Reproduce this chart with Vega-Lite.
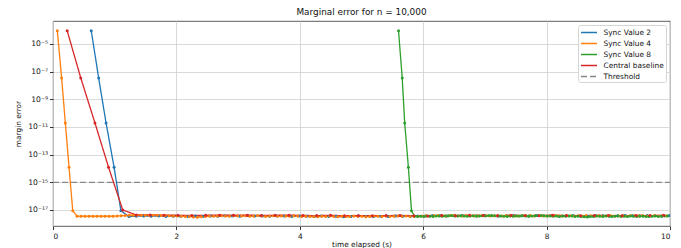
{
"$schema":"https://vega.github.io/schema/vega-lite/v6.json",
"autosize":"none","width":617,"height":205,
"padding":{"left":53,"top":21,"right":11,"bottom":22},
"background":"white",
"title":{"text":"Marginal error for n = 10,000","fontSize":8.9,"font":"DejaVu Sans","fontWeight":"normal","offset":4,"color":"#111"},
"config":{"view":{"stroke":"#333","strokeWidth":0.8},"font":"DejaVu Sans"},
"data":{"values":[
{"s":"Threshold","t":0,"e":1e-15},{"s":"Threshold","t":10,"e":1e-15},
{"s":"Sync Value 2","t":0.62,"e":9e-5},{"s":"Sync Value 2","t":0.74,"e":3.5e-8},{"s":"Sync Value 2","t":0.86,"e":1.95e-11},{"s":"Sync Value 2","t":0.99,"e":1.23e-14},{"s":"Sync Value 2","t":1.10,"e":8.9e-18},
{"s":"Sync Value 2","t":1.23,"e":3.3e-18},{"s":"Sync Value 2","t":1.35,"e":3.5e-18},{"s":"Sync Value 2","t":1.47,"e":3.6e-18},{"s":"Sync Value 2","t":1.59,"e":3.5e-18},{"s":"Sync Value 2","t":1.71,"e":3.6e-18},{"s":"Sync Value 2","t":1.83,"e":3.4e-18},{"s":"Sync Value 2","t":1.95,"e":3.5e-18},
{"s":"Sync Value 2","t":2.07,"e":3.5e-18},{"s":"Sync Value 2","t":2.19,"e":3.4e-18},{"s":"Sync Value 2","t":2.31,"e":3.6e-18},{"s":"Sync Value 2","t":2.43,"e":3.5e-18},{"s":"Sync Value 2","t":2.55,"e":3.7e-18},{"s":"Sync Value 2","t":2.67,"e":3.5e-18},{"s":"Sync Value 2","t":2.79,"e":3.8e-18},{"s":"Sync Value 2","t":2.91,"e":3.6e-18},{"s":"Sync Value 2","t":3.03,"e":3.5e-18},{"s":"Sync Value 2","t":3.15,"e":3.9e-18},{"s":"Sync Value 2","t":3.27,"e":3.7e-18},{"s":"Sync Value 2","t":3.39,"e":3.6e-18},{"s":"Sync Value 2","t":3.51,"e":3.5e-18},{"s":"Sync Value 2","t":3.63,"e":3.7e-18},{"s":"Sync Value 2","t":3.75,"e":3.6e-18},{"s":"Sync Value 2","t":3.87,"e":3.4e-18},{"s":"Sync Value 2","t":3.99,"e":3.6e-18},
{"s":"Sync Value 2","t":4.11,"e":3.5e-18},{"s":"Sync Value 2","t":4.23,"e":3.3e-18},{"s":"Sync Value 2","t":4.35,"e":3.6e-18},{"s":"Sync Value 2","t":4.47,"e":3.4e-18},{"s":"Sync Value 2","t":4.59,"e":3.5e-18},{"s":"Sync Value 2","t":4.71,"e":3.2e-18},{"s":"Sync Value 2","t":4.83,"e":3.4e-18},{"s":"Sync Value 2","t":4.95,"e":3.6e-18},{"s":"Sync Value 2","t":5.07,"e":3.5e-18},{"s":"Sync Value 2","t":5.19,"e":3.3e-18},{"s":"Sync Value 2","t":5.31,"e":3.5e-18},{"s":"Sync Value 2","t":5.43,"e":3.4e-18},{"s":"Sync Value 2","t":5.55,"e":3.6e-18},{"s":"Sync Value 2","t":5.67,"e":3.5e-18},{"s":"Sync Value 2","t":5.79,"e":3.4e-18},{"s":"Sync Value 2","t":5.91,"e":3.6e-18},
{"s":"Sync Value 2","t":6.03,"e":3.7e-18},{"s":"Sync Value 2","t":6.15,"e":3.9e-18},{"s":"Sync Value 2","t":6.27,"e":3.8e-18},{"s":"Sync Value 2","t":6.39,"e":3.6e-18},{"s":"Sync Value 2","t":6.51,"e":3.9e-18},{"s":"Sync Value 2","t":6.63,"e":4.0e-18},{"s":"Sync Value 2","t":6.75,"e":3.8e-18},{"s":"Sync Value 2","t":6.87,"e":3.7e-18},{"s":"Sync Value 2","t":6.99,"e":3.9e-18},{"s":"Sync Value 2","t":7.11,"e":3.8e-18},{"s":"Sync Value 2","t":7.23,"e":3.6e-18},{"s":"Sync Value 2","t":7.35,"e":3.9e-18},{"s":"Sync Value 2","t":7.47,"e":4.1e-18},{"s":"Sync Value 2","t":7.59,"e":3.8e-18},{"s":"Sync Value 2","t":7.71,"e":3.7e-18},{"s":"Sync Value 2","t":7.83,"e":3.9e-18},{"s":"Sync Value 2","t":7.95,"e":3.8e-18},{"s":"Sync Value 2","t":8.07,"e":4.0e-18},{"s":"Sync Value 2","t":8.19,"e":3.7e-18},{"s":"Sync Value 2","t":8.31,"e":3.8e-18},{"s":"Sync Value 2","t":8.43,"e":3.9e-18},{"s":"Sync Value 2","t":8.55,"e":3.7e-18},{"s":"Sync Value 2","t":8.67,"e":3.6e-18},{"s":"Sync Value 2","t":8.79,"e":3.8e-18},{"s":"Sync Value 2","t":8.91,"e":3.9e-18},{"s":"Sync Value 2","t":9.03,"e":3.7e-18},{"s":"Sync Value 2","t":9.15,"e":3.8e-18},{"s":"Sync Value 2","t":9.27,"e":4.0e-18},{"s":"Sync Value 2","t":9.39,"e":3.8e-18},{"s":"Sync Value 2","t":9.51,"e":3.7e-18},{"s":"Sync Value 2","t":9.63,"e":3.9e-18},{"s":"Sync Value 2","t":9.75,"e":3.8e-18},{"s":"Sync Value 2","t":9.87,"e":3.7e-18},{"s":"Sync Value 2","t":9.99,"e":3.9e-18},
{"s":"Sync Value 4","t":0.07,"e":9e-5},{"s":"Sync Value 4","t":0.14,"e":3.5e-8},{"s":"Sync Value 4","t":0.20,"e":1.95e-11},{"s":"Sync Value 4","t":0.26,"e":1.23e-14},{"s":"Sync Value 4","t":0.32,"e":8.9e-18},
{"s":"Sync Value 4","t":0.39,"e":3.5e-18},{"s":"Sync Value 4","t":0.455,"e":3.5e-18},{"s":"Sync Value 4","t":0.52,"e":3.5e-18},{"s":"Sync Value 4","t":0.585,"e":3.5e-18},{"s":"Sync Value 4","t":0.65,"e":3.5e-18},{"s":"Sync Value 4","t":0.715,"e":3.5e-18},{"s":"Sync Value 4","t":0.78,"e":3.5e-18},{"s":"Sync Value 4","t":0.845,"e":3.5e-18},{"s":"Sync Value 4","t":0.91,"e":3.5e-18},{"s":"Sync Value 4","t":0.975,"e":3.5e-18},{"s":"Sync Value 4","t":1.04,"e":3.6e-18},
{"s":"Sync Value 4","t":1.105,"e":3.8e-18},{"s":"Sync Value 4","t":1.17,"e":4.0e-18},{"s":"Sync Value 4","t":1.235,"e":4.1e-18},{"s":"Sync Value 4","t":1.30,"e":4.2e-18},{"s":"Sync Value 4","t":1.365,"e":4.2e-18},{"s":"Sync Value 4","t":1.43,"e":4.1e-18},{"s":"Sync Value 4","t":1.495,"e":4.2e-18},{"s":"Sync Value 4","t":1.56,"e":4.2e-18},{"s":"Sync Value 4","t":1.625,"e":4.1e-18},{"s":"Sync Value 4","t":1.69,"e":4.2e-18},{"s":"Sync Value 4","t":1.755,"e":4.0e-18},{"s":"Sync Value 4","t":1.82,"e":3.9e-18},{"s":"Sync Value 4","t":1.885,"e":3.8e-18},{"s":"Sync Value 4","t":1.95,"e":3.7e-18},
{"s":"Sync Value 4","t":2.015,"e":3.6e-18},{"s":"Sync Value 4","t":2.08,"e":3.5e-18},{"s":"Sync Value 4","t":2.145,"e":3.3e-18},{"s":"Sync Value 4","t":2.21,"e":3.4e-18},{"s":"Sync Value 4","t":2.275,"e":3.1e-18},{"s":"Sync Value 4","t":2.34,"e":3.0e-18},{"s":"Sync Value 4","t":2.405,"e":3.2e-18},{"s":"Sync Value 4","t":2.47,"e":3.4e-18},{"s":"Sync Value 4","t":2.535,"e":3.6e-18},{"s":"Sync Value 4","t":2.60,"e":3.5e-18},{"s":"Sync Value 4","t":2.665,"e":3.7e-18},{"s":"Sync Value 4","t":2.73,"e":3.8e-18},{"s":"Sync Value 4","t":2.795,"e":3.6e-18},{"s":"Sync Value 4","t":2.86,"e":3.5e-18},{"s":"Sync Value 4","t":2.925,"e":3.9e-18},{"s":"Sync Value 4","t":2.99,"e":3.7e-18},{"s":"Sync Value 4","t":3.055,"e":3.6e-18},{"s":"Sync Value 4","t":3.12,"e":3.8e-18},{"s":"Sync Value 4","t":3.185,"e":3.5e-18},{"s":"Sync Value 4","t":3.25,"e":3.6e-18},{"s":"Sync Value 4","t":3.315,"e":3.9e-18},{"s":"Sync Value 4","t":3.38,"e":3.7e-18},{"s":"Sync Value 4","t":3.445,"e":3.4e-18},{"s":"Sync Value 4","t":3.51,"e":3.6e-18},{"s":"Sync Value 4","t":3.575,"e":3.8e-18},{"s":"Sync Value 4","t":3.64,"e":3.5e-18},{"s":"Sync Value 4","t":3.705,"e":3.7e-18},{"s":"Sync Value 4","t":3.77,"e":3.6e-18},{"s":"Sync Value 4","t":3.835,"e":3.5e-18},{"s":"Sync Value 4","t":3.90,"e":3.8e-18},{"s":"Sync Value 4","t":3.965,"e":3.6e-18},{"s":"Sync Value 4","t":4.03,"e":3.4e-18},
{"s":"Sync Value 4","t":4.095,"e":3.5e-18},{"s":"Sync Value 4","t":4.16,"e":3.3e-18},{"s":"Sync Value 4","t":4.225,"e":3.4e-18},{"s":"Sync Value 4","t":4.29,"e":3.2e-18},{"s":"Sync Value 4","t":4.355,"e":3.5e-18},{"s":"Sync Value 4","t":4.42,"e":3.3e-18},{"s":"Sync Value 4","t":4.485,"e":3.6e-18},{"s":"Sync Value 4","t":4.55,"e":3.4e-18},{"s":"Sync Value 4","t":4.615,"e":3.2e-18},{"s":"Sync Value 4","t":4.68,"e":3.5e-18},{"s":"Sync Value 4","t":4.745,"e":3.3e-18},{"s":"Sync Value 4","t":4.81,"e":3.4e-18},{"s":"Sync Value 4","t":4.875,"e":3.6e-18},{"s":"Sync Value 4","t":4.94,"e":3.3e-18},{"s":"Sync Value 4","t":5.005,"e":3.5e-18},{"s":"Sync Value 4","t":5.07,"e":3.2e-18},{"s":"Sync Value 4","t":5.135,"e":3.4e-18},{"s":"Sync Value 4","t":5.20,"e":3.6e-18},{"s":"Sync Value 4","t":5.265,"e":3.5e-18},{"s":"Sync Value 4","t":5.33,"e":3.3e-18},{"s":"Sync Value 4","t":5.395,"e":3.6e-18},{"s":"Sync Value 4","t":5.46,"e":3.4e-18},{"s":"Sync Value 4","t":5.525,"e":3.5e-18},{"s":"Sync Value 4","t":5.59,"e":3.7e-18},{"s":"Sync Value 4","t":5.655,"e":3.5e-18},{"s":"Sync Value 4","t":5.72,"e":3.6e-18},{"s":"Sync Value 4","t":5.785,"e":3.4e-18},{"s":"Sync Value 4","t":5.85,"e":3.5e-18},{"s":"Sync Value 4","t":5.915,"e":3.3e-18},{"s":"Sync Value 4","t":5.98,"e":3.6e-18},
{"s":"Sync Value 4","t":6.045,"e":3.8e-18},{"s":"Sync Value 4","t":6.11,"e":3.7e-18},{"s":"Sync Value 4","t":6.175,"e":3.9e-18},{"s":"Sync Value 4","t":6.24,"e":4.0e-18},{"s":"Sync Value 4","t":6.305,"e":3.8e-18},{"s":"Sync Value 4","t":6.37,"e":3.6e-18},{"s":"Sync Value 4","t":6.435,"e":3.9e-18},{"s":"Sync Value 4","t":6.50,"e":4.1e-18},{"s":"Sync Value 4","t":6.565,"e":3.8e-18},{"s":"Sync Value 4","t":6.63,"e":3.7e-18},{"s":"Sync Value 4","t":6.695,"e":4.0e-18},{"s":"Sync Value 4","t":6.76,"e":3.9e-18},{"s":"Sync Value 4","t":6.825,"e":3.6e-18},{"s":"Sync Value 4","t":6.89,"e":3.8e-18},{"s":"Sync Value 4","t":6.955,"e":4.1e-18},{"s":"Sync Value 4","t":7.02,"e":3.9e-18},{"s":"Sync Value 4","t":7.085,"e":3.7e-18},{"s":"Sync Value 4","t":7.15,"e":3.8e-18},{"s":"Sync Value 4","t":7.215,"e":4.0e-18},{"s":"Sync Value 4","t":7.28,"e":3.7e-18},{"s":"Sync Value 4","t":7.345,"e":3.9e-18},{"s":"Sync Value 4","t":7.41,"e":4.1e-18},{"s":"Sync Value 4","t":7.475,"e":3.8e-18},{"s":"Sync Value 4","t":7.54,"e":3.6e-18},{"s":"Sync Value 4","t":7.605,"e":3.9e-18},{"s":"Sync Value 4","t":7.67,"e":3.8e-18},{"s":"Sync Value 4","t":7.735,"e":4.0e-18},{"s":"Sync Value 4","t":7.80,"e":3.7e-18},{"s":"Sync Value 4","t":7.865,"e":3.9e-18},{"s":"Sync Value 4","t":7.93,"e":3.8e-18},{"s":"Sync Value 4","t":7.995,"e":3.6e-18},{"s":"Sync Value 4","t":8.06,"e":3.9e-18},{"s":"Sync Value 4","t":8.125,"e":4.1e-18},{"s":"Sync Value 4","t":8.19,"e":3.8e-18},{"s":"Sync Value 4","t":8.255,"e":3.7e-18},{"s":"Sync Value 4","t":8.32,"e":4.0e-18},{"s":"Sync Value 4","t":8.385,"e":3.8e-18},{"s":"Sync Value 4","t":8.45,"e":3.6e-18},{"s":"Sync Value 4","t":8.515,"e":3.9e-18},{"s":"Sync Value 4","t":8.58,"e":3.7e-18},{"s":"Sync Value 4","t":8.645,"e":4.0e-18},{"s":"Sync Value 4","t":8.71,"e":3.8e-18},{"s":"Sync Value 4","t":8.775,"e":3.6e-18},{"s":"Sync Value 4","t":8.84,"e":3.9e-18},{"s":"Sync Value 4","t":8.905,"e":3.7e-18},{"s":"Sync Value 4","t":8.97,"e":3.8e-18},{"s":"Sync Value 4","t":9.035,"e":4.0e-18},{"s":"Sync Value 4","t":9.10,"e":3.6e-18},{"s":"Sync Value 4","t":9.165,"e":3.8e-18},{"s":"Sync Value 4","t":9.23,"e":3.9e-18},{"s":"Sync Value 4","t":9.295,"e":3.7e-18},{"s":"Sync Value 4","t":9.36,"e":4.0e-18},{"s":"Sync Value 4","t":9.425,"e":3.8e-18},{"s":"Sync Value 4","t":9.49,"e":3.6e-18},{"s":"Sync Value 4","t":9.555,"e":3.9e-18},{"s":"Sync Value 4","t":9.62,"e":3.7e-18},{"s":"Sync Value 4","t":9.685,"e":3.8e-18},{"s":"Sync Value 4","t":9.75,"e":4.0e-18},{"s":"Sync Value 4","t":9.815,"e":3.7e-18},{"s":"Sync Value 4","t":9.88,"e":3.9e-18},{"s":"Sync Value 4","t":9.945,"e":3.8e-18},
{"s":"Sync Value 8","t":5.60,"e":9e-5},{"s":"Sync Value 8","t":5.66,"e":3.5e-8},{"s":"Sync Value 8","t":5.70,"e":1.95e-11},{"s":"Sync Value 8","t":5.76,"e":1.23e-14},{"s":"Sync Value 8","t":5.81,"e":8.9e-18},
{"s":"Sync Value 8","t":5.86,"e":3.5e-18},{"s":"Sync Value 8","t":5.91,"e":3.4e-18},{"s":"Sync Value 8","t":5.96,"e":3.5e-18},{"s":"Sync Value 8","t":6.01,"e":3.4e-18},{"s":"Sync Value 8","t":6.06,"e":3.6e-18},{"s":"Sync Value 8","t":6.11,"e":3.5e-18},{"s":"Sync Value 8","t":6.16,"e":3.4e-18},{"s":"Sync Value 8","t":6.21,"e":3.6e-18},{"s":"Sync Value 8","t":6.26,"e":3.7e-18},{"s":"Sync Value 8","t":6.31,"e":3.5e-18},{"s":"Sync Value 8","t":6.36,"e":3.6e-18},{"s":"Sync Value 8","t":6.41,"e":3.8e-18},{"s":"Sync Value 8","t":6.46,"e":3.9e-18},{"s":"Sync Value 8","t":6.51,"e":3.7e-18},{"s":"Sync Value 8","t":6.56,"e":3.6e-18},{"s":"Sync Value 8","t":6.61,"e":3.8e-18},{"s":"Sync Value 8","t":6.66,"e":3.7e-18},{"s":"Sync Value 8","t":6.71,"e":3.5e-18},{"s":"Sync Value 8","t":6.76,"e":3.6e-18},{"s":"Sync Value 8","t":6.81,"e":3.8e-18},{"s":"Sync Value 8","t":6.86,"e":3.7e-18},{"s":"Sync Value 8","t":6.91,"e":3.6e-18},{"s":"Sync Value 8","t":6.96,"e":3.8e-18},
{"s":"Sync Value 8","t":7.01,"e":3.7e-18},{"s":"Sync Value 8","t":7.06,"e":3.9e-18},{"s":"Sync Value 8","t":7.11,"e":4.0e-18},{"s":"Sync Value 8","t":7.16,"e":3.8e-18},{"s":"Sync Value 8","t":7.21,"e":3.7e-18},{"s":"Sync Value 8","t":7.26,"e":3.6e-18},{"s":"Sync Value 8","t":7.31,"e":3.5e-18},{"s":"Sync Value 8","t":7.36,"e":3.4e-18},{"s":"Sync Value 8","t":7.41,"e":3.6e-18},{"s":"Sync Value 8","t":7.46,"e":3.5e-18},{"s":"Sync Value 8","t":7.51,"e":3.7e-18},{"s":"Sync Value 8","t":7.56,"e":3.6e-18},{"s":"Sync Value 8","t":7.61,"e":3.8e-18},{"s":"Sync Value 8","t":7.66,"e":3.7e-18},{"s":"Sync Value 8","t":7.71,"e":3.5e-18},{"s":"Sync Value 8","t":7.76,"e":3.6e-18},{"s":"Sync Value 8","t":7.81,"e":3.8e-18},{"s":"Sync Value 8","t":7.86,"e":3.9e-18},{"s":"Sync Value 8","t":7.91,"e":4.0e-18},{"s":"Sync Value 8","t":7.96,"e":3.8e-18},{"s":"Sync Value 8","t":8.01,"e":3.6e-18},{"s":"Sync Value 8","t":8.06,"e":3.7e-18},{"s":"Sync Value 8","t":8.11,"e":3.5e-18},{"s":"Sync Value 8","t":8.16,"e":3.6e-18},{"s":"Sync Value 8","t":8.21,"e":3.4e-18},{"s":"Sync Value 8","t":8.26,"e":3.6e-18},{"s":"Sync Value 8","t":8.31,"e":3.5e-18},{"s":"Sync Value 8","t":8.36,"e":3.7e-18},{"s":"Sync Value 8","t":8.41,"e":3.6e-18},{"s":"Sync Value 8","t":8.46,"e":3.4e-18},{"s":"Sync Value 8","t":8.51,"e":3.5e-18},
{"s":"Sync Value 8","t":8.56,"e":3.3e-18},{"s":"Sync Value 8","t":8.61,"e":3.2e-18},{"s":"Sync Value 8","t":8.66,"e":3.1e-18},{"s":"Sync Value 8","t":8.71,"e":3.3e-18},{"s":"Sync Value 8","t":8.76,"e":3.4e-18},{"s":"Sync Value 8","t":8.81,"e":3.6e-18},{"s":"Sync Value 8","t":8.86,"e":3.5e-18},{"s":"Sync Value 8","t":8.91,"e":3.4e-18},{"s":"Sync Value 8","t":8.96,"e":3.6e-18},{"s":"Sync Value 8","t":9.01,"e":3.5e-18},{"s":"Sync Value 8","t":9.06,"e":3.3e-18},{"s":"Sync Value 8","t":9.11,"e":3.5e-18},{"s":"Sync Value 8","t":9.16,"e":3.6e-18},{"s":"Sync Value 8","t":9.21,"e":3.4e-18},{"s":"Sync Value 8","t":9.26,"e":3.5e-18},{"s":"Sync Value 8","t":9.31,"e":3.3e-18},{"s":"Sync Value 8","t":9.36,"e":3.6e-18},{"s":"Sync Value 8","t":9.41,"e":3.5e-18},{"s":"Sync Value 8","t":9.46,"e":3.4e-18},{"s":"Sync Value 8","t":9.51,"e":3.6e-18},{"s":"Sync Value 8","t":9.56,"e":3.5e-18},{"s":"Sync Value 8","t":9.61,"e":3.4e-18},{"s":"Sync Value 8","t":9.66,"e":3.3e-18},{"s":"Sync Value 8","t":9.71,"e":3.5e-18},{"s":"Sync Value 8","t":9.76,"e":3.6e-18},{"s":"Sync Value 8","t":9.81,"e":3.4e-18},{"s":"Sync Value 8","t":9.86,"e":3.5e-18},{"s":"Sync Value 8","t":9.91,"e":3.6e-18},{"s":"Sync Value 8","t":9.96,"e":3.7e-18},
{"s":"Central baseline","t":0.23,"e":9e-5},{"s":"Central baseline","t":0.45,"e":3.5e-8},{"s":"Central baseline","t":0.68,"e":1.95e-11},{"s":"Central baseline","t":0.90,"e":1.23e-14},{"s":"Central baseline","t":1.13,"e":1.0e-17},
{"s":"Central baseline","t":1.35,"e":4.3e-18},{"s":"Central baseline","t":1.575,"e":4.3e-18},{"s":"Central baseline","t":1.80,"e":4.2e-18},{"s":"Central baseline","t":2.025,"e":4.1e-18},{"s":"Central baseline","t":2.25,"e":4.0e-18},{"s":"Central baseline","t":2.475,"e":4.1e-18},{"s":"Central baseline","t":2.70,"e":4.2e-18},{"s":"Central baseline","t":2.925,"e":4.1e-18},{"s":"Central baseline","t":3.15,"e":4.2e-18},{"s":"Central baseline","t":3.375,"e":4.0e-18},{"s":"Central baseline","t":3.60,"e":4.1e-18},{"s":"Central baseline","t":3.825,"e":4.2e-18},{"s":"Central baseline","t":4.05,"e":4.0e-18},{"s":"Central baseline","t":4.275,"e":3.9e-18},{"s":"Central baseline","t":4.50,"e":4.1e-18},{"s":"Central baseline","t":4.725,"e":3.8e-18},{"s":"Central baseline","t":4.95,"e":3.9e-18},{"s":"Central baseline","t":5.175,"e":3.8e-18},{"s":"Central baseline","t":5.40,"e":3.9e-18},{"s":"Central baseline","t":5.625,"e":4.0e-18},{"s":"Central baseline","t":5.85,"e":3.8e-18},{"s":"Central baseline","t":6.075,"e":3.7e-18},{"s":"Central baseline","t":6.30,"e":4.0e-18},{"s":"Central baseline","t":6.525,"e":3.8e-18},{"s":"Central baseline","t":6.75,"e":4.1e-18},{"s":"Central baseline","t":6.975,"e":3.9e-18},{"s":"Central baseline","t":7.20,"e":3.8e-18},{"s":"Central baseline","t":7.425,"e":4.0e-18},{"s":"Central baseline","t":7.65,"e":3.9e-18},{"s":"Central baseline","t":7.875,"e":3.8e-18},{"s":"Central baseline","t":8.10,"e":4.1e-18},{"s":"Central baseline","t":8.325,"e":3.9e-18},{"s":"Central baseline","t":8.55,"e":3.8e-18},{"s":"Central baseline","t":8.775,"e":4.0e-18},{"s":"Central baseline","t":9.00,"e":3.9e-18},{"s":"Central baseline","t":9.225,"e":3.8e-18},{"s":"Central baseline","t":9.45,"e":4.0e-18},{"s":"Central baseline","t":9.675,"e":3.9e-18},{"s":"Central baseline","t":9.90,"e":4.1e-18}
]},
"encoding":{
"x":{"field":"t","type":"quantitative","scale":{"domain":[0,10],"nice":false,"zero":false},
"axis":{"values":[0,2,4,6,8,10],"title":"time elapsed (s)","titleFontSize":7.4,"titleFontWeight":"normal","titleColor":"#111","titleFont":"DejaVu Sans","labelFont":"DejaVu Sans","labelFontSize":7.4,"labelColor":"#111","tickColor":"#333","tickSize":3.5,"labelPadding":2.5,"titlePadding":1.5,"grid":true,"gridColor":"#d0d0d0","gridWidth":0.8,"domain":false}},
"y":{"field":"e","type":"quantitative","scale":{"type":"log","domain":[6.9e-19,4.6e-4],"nice":false},
"axis":{"values":[1e-17,1e-15,1e-13,1e-11,1e-9,1e-7,1e-5],"labelExpr":"datum.value < 1e-16 ? '10⁻¹⁷' : datum.value < 1e-14 ? '10⁻¹⁵' : datum.value < 1e-12 ? '10⁻¹³' : datum.value < 1e-10 ? '10⁻¹¹' : datum.value < 1e-8 ? '10⁻⁹' : datum.value < 1e-6 ? '10⁻⁷' : '10⁻⁵'","title":"margin error","titleFontSize":7.4,"titleFontWeight":"normal","titleColor":"#111","titleFont":"DejaVu Sans","labelFont":"DejaVu Sans","labelFontSize":7.6,"labelColor":"#111","tickColor":"#333","tickSize":3.5,"labelPadding":2,"titlePadding":5,"grid":true,"gridColor":"#d0d0d0","gridWidth":0.8,"domain":false}},
"color":{"field":"s","type":"nominal","scale":{"domain":["Sync Value 2","Sync Value 4","Sync Value 8","Central baseline","Threshold"],"range":["#1f77b4","#ff7f0e","#2ca02c","#d62728","#888888"]},
"legend":{"title":null,"orient":"top-right","offset":4,"symbolType":"M-1.6,0H1.6","symbolSize":100,"symbolStrokeWidth":1.5,"symbolOffset":3.5,"labelFontSize":7.4,"labelFont":"DejaVu Sans","labelColor":"#111","fillColor":"white","strokeColor":"#d5d5d5","padding":1.5,"cornerRadius":2,"rowPadding":1,"labelOffset":8.5}}
},
"layer":[
{"mark":{"type":"line","clip":true},
"encoding":{
"strokeDash":{"field":"s","type":"nominal","scale":{"domain":["Sync Value 2","Sync Value 4","Sync Value 8","Central baseline","Threshold"],"range":[[1,0],[1,0],[1,0],[1,0],[6,3]]},
"legend":{"title":null,"orient":"top-right","offset":4,"symbolType":"M-1.6,0H1.6","symbolSize":100,"symbolStrokeWidth":1.5,"symbolOffset":3.5,"labelFontSize":7.4,"labelFont":"DejaVu Sans","labelColor":"#111","fillColor":"white","strokeColor":"#d5d5d5","padding":1.5,"cornerRadius":2,"rowPadding":1,"labelOffset":8.5}},
"strokeWidth":{"field":"s","type":"nominal","scale":{"domain":["Sync Value 2","Sync Value 4","Sync Value 8","Central baseline","Threshold"],"range":[1.3,1.3,1.3,1.3,1.6]},"legend":null}}},
{"transform":[{"filter":"datum.s !== 'Threshold'"}],
"mark":{"type":"point","filled":true,"size":9,"opacity":1,"clip":true}}
]
}
